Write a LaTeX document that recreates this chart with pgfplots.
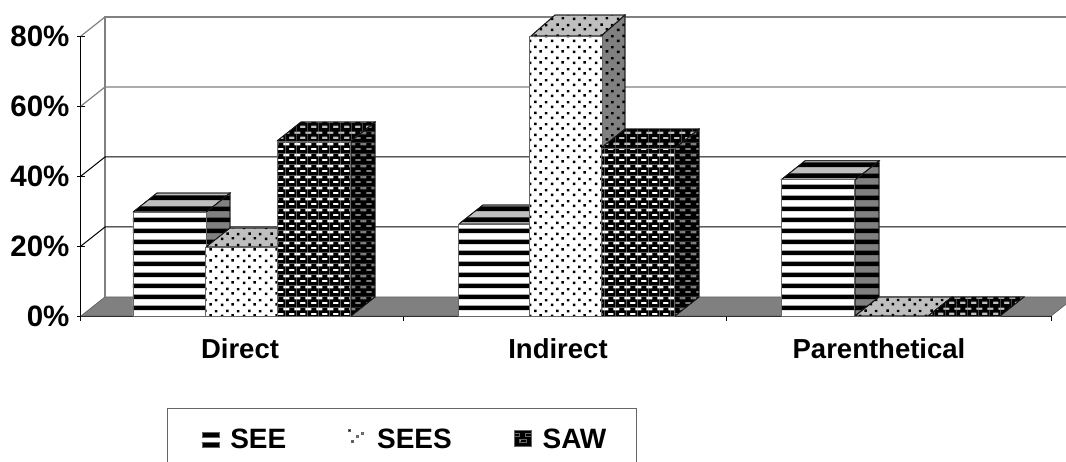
\documentclass[border=0pt]{standalone}
\usepackage{fontspec}
\setmainfont{Liberation Sans}
\usepackage{pgfplots}
\pgfplotsset{compat=1.18}
\usetikzlibrary{patterns}
\pgfdeclarepatternformonly{xstripes}{\pgfqpoint{0pt}{5pt}}{\pgfqpoint{11pt}{16pt}}{\pgfqpoint{11pt}{11pt}}{%
  \pgfpathrectangle{\pgfqpoint{-1pt}{8pt}}{\pgfqpoint{13pt}{5pt}}\pgfusepath{fill}}
\pgfdeclarepatternformonly{xdots}{\pgfqpoint{0pt}{0pt}}{\pgfqpoint{22pt}{11pt}}{\pgfqpoint{22pt}{11pt}}{%
  \pgfpathrectangle{\pgfqpoint{1pt}{1pt}}{\pgfqpoint{2.6pt}{2.6pt}}\pgfusepath{fill}%
  \pgfpathrectangle{\pgfqpoint{12pt}{1.6pt}}{\pgfqpoint{2.6pt}{2.6pt}}\pgfusepath{fill}%
  \pgfpathrectangle{\pgfqpoint{6.5pt}{6.5pt}}{\pgfqpoint{2.6pt}{2.6pt}}\pgfusepath{fill}%
  \pgfpathrectangle{\pgfqpoint{17.5pt}{6pt}}{\pgfqpoint{2.6pt}{2.6pt}}\pgfusepath{fill}}
\pgfdeclarepatternformonly{xbricks}{\pgfqpoint{0pt}{0pt}}{\pgfqpoint{11pt}{11pt}}{\pgfqpoint{11pt}{11pt}}{%
  \pgfseteorule
  \pgfpathrectangle{\pgfqpoint{-0.5pt}{-0.5pt}}{\pgfqpoint{12pt}{12pt}}%
  \pgfpathrectangle{\pgfqpoint{3.5pt}{3pt}}{\pgfqpoint{5.6pt}{2.5pt}}%
  \pgfpathrectangle{\pgfqpoint{9pt}{8.4pt}}{\pgfqpoint{2.5pt}{2.5pt}}%
  \pgfpathrectangle{\pgfqpoint{-0.5pt}{8.4pt}}{\pgfqpoint{4.1pt}{2.5pt}}%
  \pgfusepath{fill}}
\definecolor{sidegray}{gray}{0.5}
\definecolor{topgray}{gray}{0.75}
\definecolor{wallgray}{gray}{0.5}
\begin{document}
\begin{tikzpicture}[x=1pt,y=1pt]
\useasboundingbox (0,0) rectangle (1066pt,461pt);
\begin{axis}[
  at={(81pt,145pt)}, anchor=south west,
  scale only axis, width=970pt, height=280pt,
  xmin=81, xmax=1051, ymin=0, ymax=80,
  clip=false,
  axis x line=bottom, axis y line=left,
  axis line style={-, black, line width=1pt},
  xtick={240,558,879},
  xticklabels={Direct,Indirect,Parenthetical},
  minor xtick={81,403,726,1051},
  ytick={0,20,40,60,80},
  yticklabels={0\%,20\%,40\%,60\%,80\%},
  tick style={black, line width=1pt},
  major tick length=8pt,
  minor tick length=9pt,
  major x tick style={draw=none},
  xticklabel style={font=\fontsize{27.5}{30}\selectfont\bfseries, yshift=-15pt},
  yticklabel style={font=\fontsize{29.5}{30}\selectfont\bfseries, xshift=-4pt},
  legend columns=3,
  legend cell align=left,
  legend style={
    at={(axis cs:167,-26.29)}, anchor=north west,
    draw=black!60, line width=1pt, inner xsep=28pt, inner ysep=18pt,
    font=\fontsize{28}{30}\selectfont\bfseries,
    /tikz/every even column/.append style={column sep=54pt},
    /tikz/every odd column/.append style={column sep=9pt},
  },
  side/.style={forget plot, draw=black!90, line width=0.8pt, fill=sidegray, postaction={pattern=#1, pattern color=black}},
  topf/.style={forget plot, draw=black!90, line width=0.8pt, fill=topgray, postaction={pattern=#1, pattern color=black}},
  front/.style={ybar, bar width=73pt, bar shift=0pt, draw=black!60, line width=0.8pt, fill=white, postaction={pattern=#1, pattern color=black}},
]
% floor and walls
\addplot[forget plot, fill=sidegray, draw=black!60, line width=0.8pt] coordinates {(81,0)(105,5.43)(1075,5.43)(1051,0)(81,0)};
\addplot[forget plot, draw=wallgray, line width=1.2pt] coordinates {(105,5.43)(105,85.43)(1075,85.43)};
\addplot[forget plot, draw=wallgray, line width=1.2pt] coordinates {(81,80)(105,85.43)};
\addplot[forget plot, draw=wallgray, line width=1.2pt] coordinates {(81,60)(105,65.43)(1075,65.43)};
\addplot[forget plot, draw=black, line width=1pt] coordinates {(81,40)(105,45.43)(1075,45.43)};
\addplot[forget plot, draw=black, line width=1pt] coordinates {(81,20)(105,25.43)(1075,25.43)};
% SEE
\addplot[side=xstripes] coordinates {(206,0)(230,5.43)(230,35.13)(206,29.7)(206,0)};
\addplot[topf=xstripes] coordinates {(133,29.7)(157,35.13)(230,35.13)(206,29.7)(133,29.7)};
\addplot[side=xstripes] coordinates {(531,0)(555,5.43)(555,31.73)(531,26.3)(531,0)};
\addplot[topf=xstripes] coordinates {(459,26.3)(483,31.73)(555,31.73)(531,26.3)(459,26.3)};
\addplot[side=xstripes] coordinates {(855,0)(879,5.43)(879,44.33)(855,38.9)(855,0)};
\addplot[topf=xstripes] coordinates {(781,38.9)(805,44.33)(879,44.33)(855,38.9)(781,38.9)};
\addplot[front=xstripes, legend image code/.code={%
  \path[fill=black, draw=none, postaction={}] (-6pt,0pt) (0pt,2pt) rectangle (17pt,7pt);
  \path[fill=black, draw=none, postaction={}] (0pt,-8pt) rectangle (17pt,-3pt);}]
  coordinates {(169.5,29.7)(495,26.3)(818,38.9)};
% SEES
\addplot[side=xdots] coordinates {(277,0)(301,5.43)(301,25.13)(277,19.7)(277,0)};
\addplot[topf=xdots] coordinates {(206,19.7)(230,25.13)(301,25.13)(277,19.7)(206,19.7)};
\addplot[side=xdots] coordinates {(601,0)(625,5.43)(625,86)(601,80)(601,0)};
\addplot[topf=xdots] coordinates {(531,80)(555,86)(625,86)(601,80)(531,80)};
\addplot[topf=xdots] coordinates {(855,0)(879,5.43)(952,5.43)(928,0)(855,0)};
\addplot[front=xdots, legend image code/.code={%
  \path (-6pt,0pt) (17pt,0pt);
  \path[fill=black!70, draw=none] (0pt,8pt) rectangle (2pt,10pt);
  \path[fill=black!50, draw=none] (13pt,5pt) rectangle (15pt,7pt);
  \path[fill=black!70, draw=none] (3pt,-3pt) rectangle (5pt,-1pt);
  \path[fill=black!50, draw=none] (8pt,2pt) rectangle (10pt,4pt);}]
  coordinates {(241.5,19.7)(566,80)(891.5,0)};
% SAW
\addplot[side=xbricks] coordinates {(351,0)(375,5.43)(375,55.43)(351,50)(351,0)};
\addplot[topf=xbricks] coordinates {(277,50)(301,55.43)(375,55.43)(351,50)(277,50)};
\addplot[side=xbricks] coordinates {(675,0)(699,5.43)(699,53.43)(675,48)(675,0)};
\addplot[topf=xbricks] coordinates {(601,48)(625,53.43)(699,53.43)(675,48)(601,48)};
\addplot[topf=xbricks] coordinates {(928,0)(952,5.43)(1024,5.43)(1000,0)(928,0)};
\addplot[front=xbricks, legend image code/.code={%
  \path (-6pt,0pt) (17pt,0pt);
  \path[fill=black, draw=none] (0pt,-7pt) rectangle (17pt,9pt);
  \path[fill=white, draw=none] (0pt,3pt) rectangle (5pt,5.5pt);
  \path[fill=white, draw=none] (11pt,3pt) rectangle (17pt,5.5pt);
  \path[fill=white, draw=none] (5pt,-3pt) rectangle (12pt,-0.5pt);}]
  coordinates {(314,50)(638,48)(964,0)};
\legend{SEE,SEES,SAW}
\end{axis}
\end{tikzpicture}
\end{document}
